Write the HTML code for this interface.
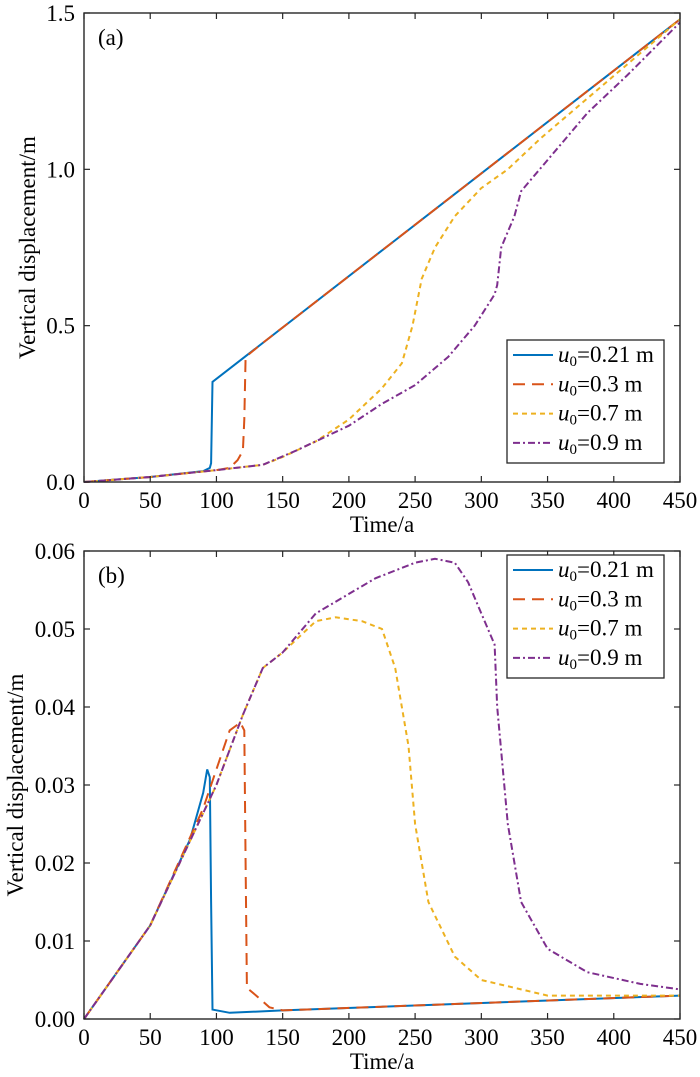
<!DOCTYPE html>
<html><head><meta charset="utf-8"><style>
html,body{margin:0;padding:0;background:#fff;}
svg{display:block;font-family:"Liberation Serif",serif;}
</style></head><body>
<svg id="chart" width="700" height="1077"></svg>
<script>
const xTicks=[0,50,100,150,200,250,300,350,400,450];
const yTicksA=[0,0.5,1.0,1.5];
const yTickLabelsA=["0.0","0.5","1.0","1.5"];
const yTicksB=[0,0.01,0.02,0.03,0.04,0.05,0.06];
const yTickLabelsB=["0.00","0.01","0.02","0.03","0.04","0.05","0.06"];
const seriesNames=["0.21 m","0.3 m","0.7 m","0.9 m"];
// panel a
const a_t21=[0,50,90,95,96,97,450];
const a_v21=[0,0.016,0.035,0.045,0.06,0.32,1.48];
const a_t3=[0,50,100,110,116,120,121,122,135,450];
const a_v3=[0,0.016,0.038,0.045,0.07,0.1,0.2,0.4,0.445,1.48];
const a_t7=[0,50,100,135,150,175,200,225,240,248,255,265,280,300,320,345,450];
const a_v7=[0,0.016,0.038,0.055,0.08,0.13,0.2,0.3,0.38,0.5,0.65,0.75,0.85,0.94,1.0,1.1,1.48];
const a_t9=[0,50,100,135,160,200,225,250,275,295,310,312,315,325,330,350,380,410,450];
const a_v9=[0,0.016,0.038,0.055,0.1,0.18,0.25,0.31,0.4,0.5,0.6,0.63,0.75,0.85,0.93,1.03,1.18,1.3,1.47];
// panel b
const b_t21=[0,50,80,90,93,95,96,97,110,150,450];
const b_v21=[0,0.012,0.023,0.029,0.032,0.031,0.015,0.0012,0.0008,0.0011,0.003];
const b_t3=[0,50,90,100,110,118,121,122,123,130,140,150,450];
const b_v3=[0,0.012,0.027,0.032,0.037,0.038,0.037,0.02,0.004,0.003,0.0015,0.0011,0.003];
const b_t7=[0,50,100,120,135,150,175,190,210,225,235,245,250,260,280,300,350,450];
const b_v7=[0,0.012,0.03,0.039,0.045,0.047,0.051,0.0515,0.051,0.05,0.045,0.035,0.025,0.015,0.008,0.005,0.003,0.003];
const b_t9=[0,50,100,120,135,150,175,200,220,250,265,280,290,300,310,312,320,330,350,380,420,450];
const b_v9=[0,0.012,0.03,0.039,0.045,0.047,0.052,0.0545,0.0565,0.0585,0.059,0.0585,0.056,0.052,0.048,0.04,0.025,0.015,0.009,0.006,0.0045,0.0038];

const NS="http://www.w3.org/2000/svg";
const svg=document.getElementById('chart');
const colors=["#0072bd","#d95319","#edb120","#7e2f8e"];
const dashes=["","12,7","5,4","7,3,2,3"];
function mk(tag,attrs,parent){const e=document.createElementNS(NS,tag);for(const k in attrs)e.setAttribute(k,attrs[k]);(parent||svg).appendChild(e);return e;}

function panel(o){
  const L=84,R=680,T=o.top,B=o.bottom;
  const sx=v=>L+(v/450)*(R-L);
  const sy=v=>B-(v/o.ymax)*(B-T);
  const g=mk('g',{});
  
  
  const series=[[o.t[0],o.v[0]],[o.t[1],o.v[1]],[o.t[2],o.v[2]],[o.t[3],o.v[3]]];
  series.forEach((s,i)=>{
    const d=s[0].map((t,j)=>(j?'L':'M')+sx(t).toFixed(1)+','+sy(s[1][j]).toFixed(1)).join('');
    const p=mk('path',{d:d,fill:'none',stroke:colors[i],'stroke-width':2,'stroke-dasharray':dashes[i]},g);
    
    
  });
  const f=mk('rect',{x:L,y:T,width:R-L,height:B-T,fill:'none',stroke:'#262626','stroke-width':1.4},g);
  
  
  xTicks.forEach(v=>{
    mk('line',{x1:sx(v),x2:sx(v),y1:B,y2:B-6,stroke:'#262626','stroke-width':1.2},g);
    mk('line',{x1:sx(v),x2:sx(v),y1:T,y2:T+6,stroke:'#262626','stroke-width':1.2},g);
    const t=mk('text',{x:sx(v),y:B+26,'text-anchor':'middle','font-size':23},g);
    t.textContent=v;
    
    
  });
  o.yt.forEach((v,i)=>{
    mk('line',{x1:L,x2:L+6,y1:sy(v),y2:sy(v),stroke:'#262626','stroke-width':1.2},g);
    mk('line',{x1:R,x2:R-6,y1:sy(v),y2:sy(v),stroke:'#262626','stroke-width':1.2},g);
    const t=mk('text',{x:L-9,y:sy(v)+8,'text-anchor':'end','font-size':23},g);
    t.textContent=o.yl[i];
    
    
  });
  const xt=mk('text',{x:(L+R)/2,y:B+50,'text-anchor':'middle','font-size':23},g);
  xt.textContent='Time/a';
  
  
  const cy=(T+B)/2, tx=o.tx;
  const yt=mk('text',{x:tx,y:cy,'text-anchor':'middle','font-size':23,transform:'rotate(-90 '+tx+' '+cy+')'},g);
  yt.textContent='Vertical displacement/m';
  
  
  const pl=mk('text',{x:98,y:T+32,'font-size':23},g);
  pl.textContent=o.label;
  
  
  const lg=mk('g',{},g);
  
  
  mk('rect',{x:507,y:o.ly,width:157,height:123,fill:'#fff',stroke:'#262626','stroke-width':1.3},lg);
  seriesNames.forEach((n,i)=>{
    const yy=o.ly+15+i*29.3;
    mk('line',{x1:513,x2:553,y1:yy,y2:yy,stroke:colors[i],'stroke-width':2,'stroke-dasharray':dashes[i]},lg);
    const t=mk('text',{x:558,y:yy+7,'font-size':23},lg);
    t.innerHTML='<tspan font-style="italic">u</tspan><tspan font-size="15" dy="4">0</tspan><tspan dy="-4">='+n+'</tspan>';
    
    
  });
}
panel({name:'panel-a',top:13,bottom:482,ymax:1.5,yt:yTicksA,yl:yTickLabelsA,label:'(a)',ly:340,tx:35,
  t:[a_t21,a_t3,a_t7,a_t9],v:[a_v21,a_v3,a_v7,a_v9]});
panel({name:'panel-b',top:551,bottom:1019,ymax:0.06,yt:yTicksB,yl:yTickLabelsB,label:'(b)',ly:555,tx:23,
  t:[b_t21,b_t3,b_t7,b_t9],v:[b_v21,b_v3,b_v7,b_v9]});
</script>
</body></html>
